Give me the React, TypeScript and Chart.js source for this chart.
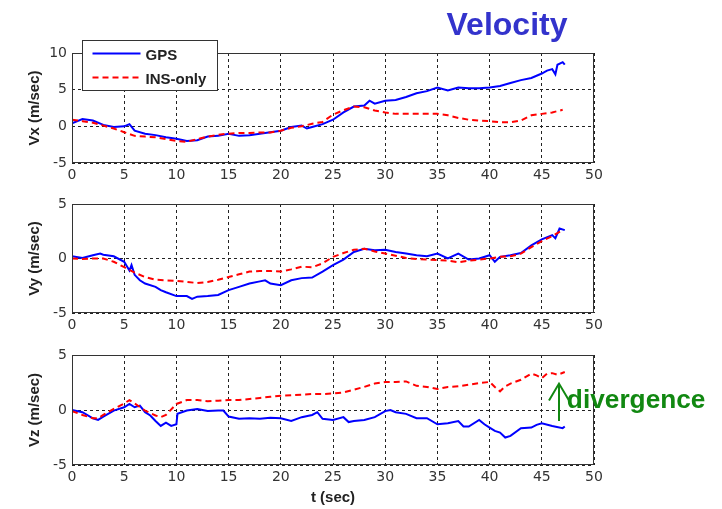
import React, { useEffect, useRef } from 'react';
import { Chart, registerables } from 'chart.js';

Chart.register(...registerables);

type Pt = [number, number];

const chartTitle = 'Velocity';
const seriesNames = ['GPS', 'INS-only'];
const yTitles = ['Vx (m/sec)', 'Vy (m/sec)', 'Vz (m/sec)'];
const xTitle = 't (sec)';
const annotationText = 'divergence';
const xRange = [0, 50];
const xStep = 5;
const yRanges: Pt[] = [[-5, 10], [-5, 5], [-5, 5]];
const yStep = 5;

const vxGps: Pt[] = [[0,0.4],[1,1.0],[2,0.8],[3,0.2],[4,-0.1],[5,0],[5.5,0.3],[6,-0.6],[7,-1.0],[8,-1.2],[9,-1.5],[10,-1.7],[11,-2.0],[12,-1.9],[13,-1.4],[14,-1.3],[15,-1.0],[16,-1.3],[17,-1.2],[18,-1.0],[19,-0.8],[20,-0.6],[21,-0.1],[22,0.1],[22.5,-0.3],[23,-0.1],[24,0.3],[25,0.9],[26,1.9],[27,2.7],[28,2.85],[28.5,3.5],[29,3.1],[30,3.5],[31,3.6],[32,4.0],[33,4.5],[34,4.8],[35,5.3],[36,4.9],[37,5.3],[38,5.2],[39,5.2],[40,5.3],[41,5.5],[42,5.9],[43,6.3],[44,6.6],[45,7.2],[45.5,7.6],[46,7.8],[46.3,7.1],[46.5,8.4],[47,8.75],[47.2,8.4]];
const vxIns: Pt[] = [[0,0.9],[1,0.7],[2,0.5],[3,0.1],[4,-0.3],[5,-0.8],[6,-1.3],[7,-1.4],[8,-1.5],[9,-1.75],[10,-2.0],[11,-2.1],[12,-1.75],[13,-1.4],[14,-1.15],[15,-1.0],[16,-0.9],[17,-0.9],[18,-0.85],[19,-0.85],[20,-0.6],[21,-0.2],[22,0],[23,0.35],[24,0.6],[25,1.6],[26,2.2],[27,2.7],[28,2.6],[29,2.15],[30,1.9],[31,1.7],[32,1.7],[33,1.7],[34,1.7],[35,1.7],[36,1.5],[37,1.15],[38,0.9],[39,0.8],[40,0.7],[41,0.55],[42,0.55],[43,0.8],[44,1.5],[45,1.7],[46,1.9],[47,2.25]];

const vyGps: Pt[] = [[0,0.2],[1,0.05],[2,0.3],[2.7,0.45],[3,0.35],[4,0.2],[5,-0.3],[5.5,-1.1],[5.7,-0.6],[6,-1.5],[6.5,-2.0],[7,-2.3],[8,-2.6],[8.5,-2.9],[9,-3.1],[10,-3.45],[11,-3.45],[11.5,-3.7],[12,-3.5],[13,-3.45],[14,-3.35],[15,-2.9],[16,-2.6],[17,-2.3],[18,-2.1],[18.5,-2.0],[19,-2.3],[20,-2.45],[21,-2.0],[22,-1.8],[23,-1.75],[24,-1.2],[25,-0.6],[26,-0.1],[27,0.6],[28,0.9],[29,0.75],[30,0.8],[31,0.6],[32,0.45],[33,0.3],[34,0.2],[35,0.45],[36,0],[37,0.45],[38,-0.1],[39,0],[40,0.3],[40.5,-0.3],[41,0.15],[42,0.3],[43,0.5],[44,1.2],[45,1.75],[46,2.15],[46.3,1.85],[46.7,2.75],[47.2,2.6]];
const vyIns: Pt[] = [[0,0],[1,-0.05],[2,0],[3,0],[4,-0.3],[5,-0.8],[6,-1.3],[7,-1.7],[8,-1.95],[9,-2.0],[10,-2.05],[11,-2.15],[12,-2.25],[13,-2.15],[14,-1.95],[15,-1.7],[16,-1.45],[17,-1.2],[18,-1.15],[19,-1.15],[20,-1.2],[21,-1.0],[22,-0.75],[23,-0.8],[24,-0.45],[25,0.15],[26,0.5],[27,0.8],[28,0.9],[29,0.65],[30,0.45],[31,0.25],[32,0.05],[33,-0.05],[34,-0.1],[35,-0.15],[36,-0.2],[37,-0.35],[38,-0.2],[39,-0.1],[40,0],[41,0.15],[42,0.2],[43,0.45],[44,1.05],[45,1.6],[46,2.05],[47,2.6]];

const vzGps: Pt[] = [[0,0],[1,-0.2],[2,-0.75],[2.5,-0.9],[3,-0.6],[4,-0.05],[5,0.25],[5.5,0.55],[6,0.25],[6.5,0.4],[7,-0.2],[7.5,-0.5],[8,-1.0],[8.5,-1.45],[9,-1.15],[9.5,-1.45],[10,-1.3],[10.1,-0.35],[11,-0.05],[12,0.1],[13,-0.1],[14,-0.05],[14.5,-0.05],[15,-0.6],[16,-0.8],[17,-0.75],[18,-0.8],[19,-0.7],[20,-0.75],[21,-1.0],[22,-0.65],[23,-0.45],[23.5,-0.2],[24,-0.8],[25,-0.9],[26,-0.65],[26.5,-1.1],[27,-1.0],[28,-0.9],[29,-0.65],[30,-0.1],[30.5,0],[31,-0.2],[32,-0.35],[33,-0.75],[34,-0.75],[35,-1.3],[36,-1.2],[37,-1.0],[37.5,-1.5],[38,-1.5],[39,-0.9],[39.5,-1.3],[40,-1.6],[40.5,-1.9],[41,-2.05],[41.5,-2.5],[42,-2.35],[43,-1.65],[44,-1.6],[44.5,-1.35],[45,-1.2],[46,-1.45],[47,-1.65],[47.2,-1.5]];
const vzIns: Pt[] = [[0,-0.1],[1,-0.45],[2,-0.75],[2.5,-0.75],[3,-0.45],[4,0.1],[5,0.6],[5.5,0.9],[6,0.6],[7,-0.05],[8,-0.5],[8.5,-0.65],[9,-0.45],[10,0.55],[11,0.9],[12,0.9],[13,0.8],[14,0.85],[15,0.9],[16,0.9],[17,1.0],[18,1.1],[19,1.2],[20,1.3],[21,1.35],[22,1.4],[23,1.45],[24,1.45],[25,1.5],[26,1.6],[27,1.85],[28,2.1],[29,2.4],[30,2.55],[31,2.55],[32,2.6],[33,2.2],[34,2.1],[35,1.9],[36,2.1],[37,2.15],[38,2.3],[39,2.45],[40,2.55],[40.5,2.1],[41,1.7],[41.5,2.15],[42,2.4],[43,2.75],[44,3.3],[44.5,3.15],[45,2.9],[45.5,3.3],[46,3.35],[46.5,3.2],[47.2,3.45]];

// arrow annotation (data coords on Vz panel)
const arrowT = 46.6;
const arrowFrom = -1.0;
const arrowTo = 2.4;
const annotationAt: Pt = [47.4, 0.15];

const GPS_COLOR = '#0000FF';
const INS_COLOR = '#FF0000';
const GRID_COLOR = '#222222';
const AXIS_COLOR = '#333333';
const TICK_FONT = { family: "'DejaVu Sans', sans-serif", size: 14 };
const LABEL_FONT = { family: "'Liberation Sans', Arial, sans-serif", size: 15, weight: 'bold' as const };

const boxPlugin = {
  id: 'boxPlugin',
  afterDatasetsDraw(chart: any) {
    const { ctx, chartArea: a } = chart;
    ctx.save();
    ctx.strokeStyle = AXIS_COLOR;
    ctx.lineWidth = 1;
    const l = Math.round(a.left) + 0.5;
    const t = Math.round(a.top) + 0.5;
    const r = Math.round(a.right) - 0.5;
    const b = Math.round(a.bottom) - 0.5;
    ctx.strokeRect(l, t, r - l, b - t);
    ctx.restore();
  },
};

const titleLegendPlugin = {
  id: 'titleLegend',
  afterDraw(chart: any) {
    const { ctx, chartArea: a } = chart;
    ctx.save();
    // title
    ctx.fillStyle = '#3333CC';
    ctx.font = "bold 32px 'Liberation Sans', Arial, sans-serif";
    ctx.textAlign = 'center';
    ctx.textBaseline = 'alphabetic';
    ctx.fillText(chartTitle, 507, 35);
    // legend
    const bx = Math.round(a.left) + 10.5;
    const by = Math.round(a.top) - 13 + 0.5;
    const bw = 135;
    const bh = 50;
    ctx.fillStyle = '#FFFFFF';
    ctx.fillRect(bx, by, bw, bh);
    ctx.strokeStyle = AXIS_COLOR;
    ctx.lineWidth = 1;
    ctx.strokeRect(bx, by, bw, bh);
    const rows = [
      { name: seriesNames[0], color: GPS_COLOR, dash: [] as number[], y: by + 13 },
      { name: seriesNames[1], color: INS_COLOR, dash: [6, 4], y: by + 37 },
    ];
    ctx.font = "bold 15px 'Liberation Sans', Arial, sans-serif";
    ctx.textAlign = 'left';
    ctx.textBaseline = 'middle';
    rows.forEach((r) => {
      ctx.strokeStyle = r.color;
      ctx.lineWidth = 2;
      ctx.setLineDash(r.dash);
      ctx.beginPath();
      ctx.moveTo(bx + 10, r.y);
      ctx.lineTo(bx + 58, r.y);
      ctx.stroke();
      ctx.setLineDash([]);
      ctx.fillStyle = '#222';
      ctx.fillText(r.name, bx + 63, r.y + 2);
    });
    ctx.restore();
  },
};

const divergencePlugin = {
  id: 'divergence',
  afterDraw(chart: any) {
    const { ctx } = chart;
    const xs = chart.scales.x;
    const ys = chart.scales.y;
    const ax = Math.round(xs.getPixelForValue(arrowT));
    const y0 = ys.getPixelForValue(arrowFrom);
    const y1 = ys.getPixelForValue(arrowTo);
    ctx.save();
    ctx.strokeStyle = '#118811';
    ctx.fillStyle = '#118811';
    ctx.lineWidth = 2;
    ctx.beginPath();
    ctx.moveTo(ax, y0);
    ctx.lineTo(ax, y1);
    ctx.moveTo(ax - 10, y1 + 17);
    ctx.lineTo(ax, y1);
    ctx.lineTo(ax + 10, y1 + 17);
    ctx.stroke();
    const tx = xs.getPixelForValue(annotationAt[0]);
    const ty = ys.getPixelForValue(annotationAt[1]);
    ctx.translate(tx, ty);
    ctx.scale(1.05, 1);
    ctx.font = "bold 25px 'Liberation Sans', Arial, sans-serif";
    ctx.textAlign = 'left';
    ctx.textBaseline = 'alphabetic';
    ctx.fillText(annotationText, 0, 0);
    ctx.restore();
  },
};

type PanelProps = {
  top: number;
  height: number;
  padTop: number;
  xHeight: number;
  yRange: Pt;
  yTitle: string;
  gps: Pt[];
  ins: Pt[];
  showXTitle: boolean;
  extra: any;
};

function Panel({ top, height, padTop, xHeight, yRange, yTitle, gps, ins, showXTitle, extra }: PanelProps) {
  const ref = useRef<HTMLCanvasElement>(null);
  useEffect(() => {
    const chart = new Chart(ref.current!, {
      type: 'line',
      data: {
        datasets: [
          {
            label: seriesNames[0],
            data: gps.map(([x, y]) => ({ x, y })),
            borderColor: GPS_COLOR,
            borderWidth: 2,
            pointRadius: 0,
            tension: 0,
            order: 2,
          },
          {
            label: seriesNames[1],
            data: ins.map(([x, y]) => ({ x, y })),
            borderColor: INS_COLOR,
            borderWidth: 2,
            borderDash: [6, 4],
            pointRadius: 0,
            tension: 0,
            order: 1,
          },
        ],
      },
      options: {
        responsive: false,
        animation: false,
        layout: { padding: { left: 0, right: 128, top: padTop, bottom: 2 } },
        plugins: {
          legend: { display: false },
          tooltip: { enabled: false },
          title: { display: false },
        },
        scales: {
          x: {
            type: 'linear',
            min: xRange[0],
            max: xRange[1],
            ticks: { stepSize: xStep, font: TICK_FONT, color: '#333', padding: 4, maxRotation: 0 },
            grid: { color: GRID_COLOR, lineWidth: 1, drawTicks: false },
            border: { display: false, dash: [3, 3] },
            title: {
              display: showXTitle,
              text: xTitle,
              font: LABEL_FONT,
              color: '#222',
              padding: { top: 0, bottom: 0 },
            },
            afterFit: (s: any) => {
              s.height = xHeight;
            },
          },
          y: {
            type: 'linear',
            min: yRange[0],
            max: yRange[1],
            ticks: { stepSize: yStep, font: TICK_FONT, color: '#333', padding: 5 },
            grid: { color: GRID_COLOR, lineWidth: 1, drawTicks: false },
            border: { display: false, dash: [3, 3] },
            title: {
              display: true,
              text: yTitle,
              font: LABEL_FONT,
              color: '#222',
              padding: { top: 26, bottom: 0 },
            },
            afterFit: (s: any) => {
              s.width = 72;
            },
          },
        },
      } as any,
      plugins: extra ? [boxPlugin, extra] : [boxPlugin],
    });
    return () => chart.destroy();
  }, []);
  return (
    <canvas
      ref={ref}
      width={722}
      height={height}
      style={{ position: 'absolute', left: 0, top, width: 722, height, display: 'block' }}
    />
  );
}

export default function App() {
  return (
    <div style={{ position: 'absolute', left: 0, top: 0, width: 722, height: 509, background: '#fff', overflow: 'hidden' }}>
      <Panel top={0} height={185} padTop={53} xHeight={20} yRange={yRanges[0]} yTitle={yTitles[0]} gps={vxGps} ins={vxIns} showXTitle={false} extra={titleLegendPlugin} />
      <Panel top={185} height={150} padTop={19} xHeight={20} yRange={yRanges[1]} yTitle={yTitles[1]} gps={vyGps} ins={vyIns} showXTitle={false} extra={null} />
      <Panel top={335} height={174} padTop={20} xHeight={42} yRange={yRanges[2]} yTitle={yTitles[2]} gps={vzGps} ins={vzIns} showXTitle={true} extra={divergencePlugin} />
    </div>
  );
}
